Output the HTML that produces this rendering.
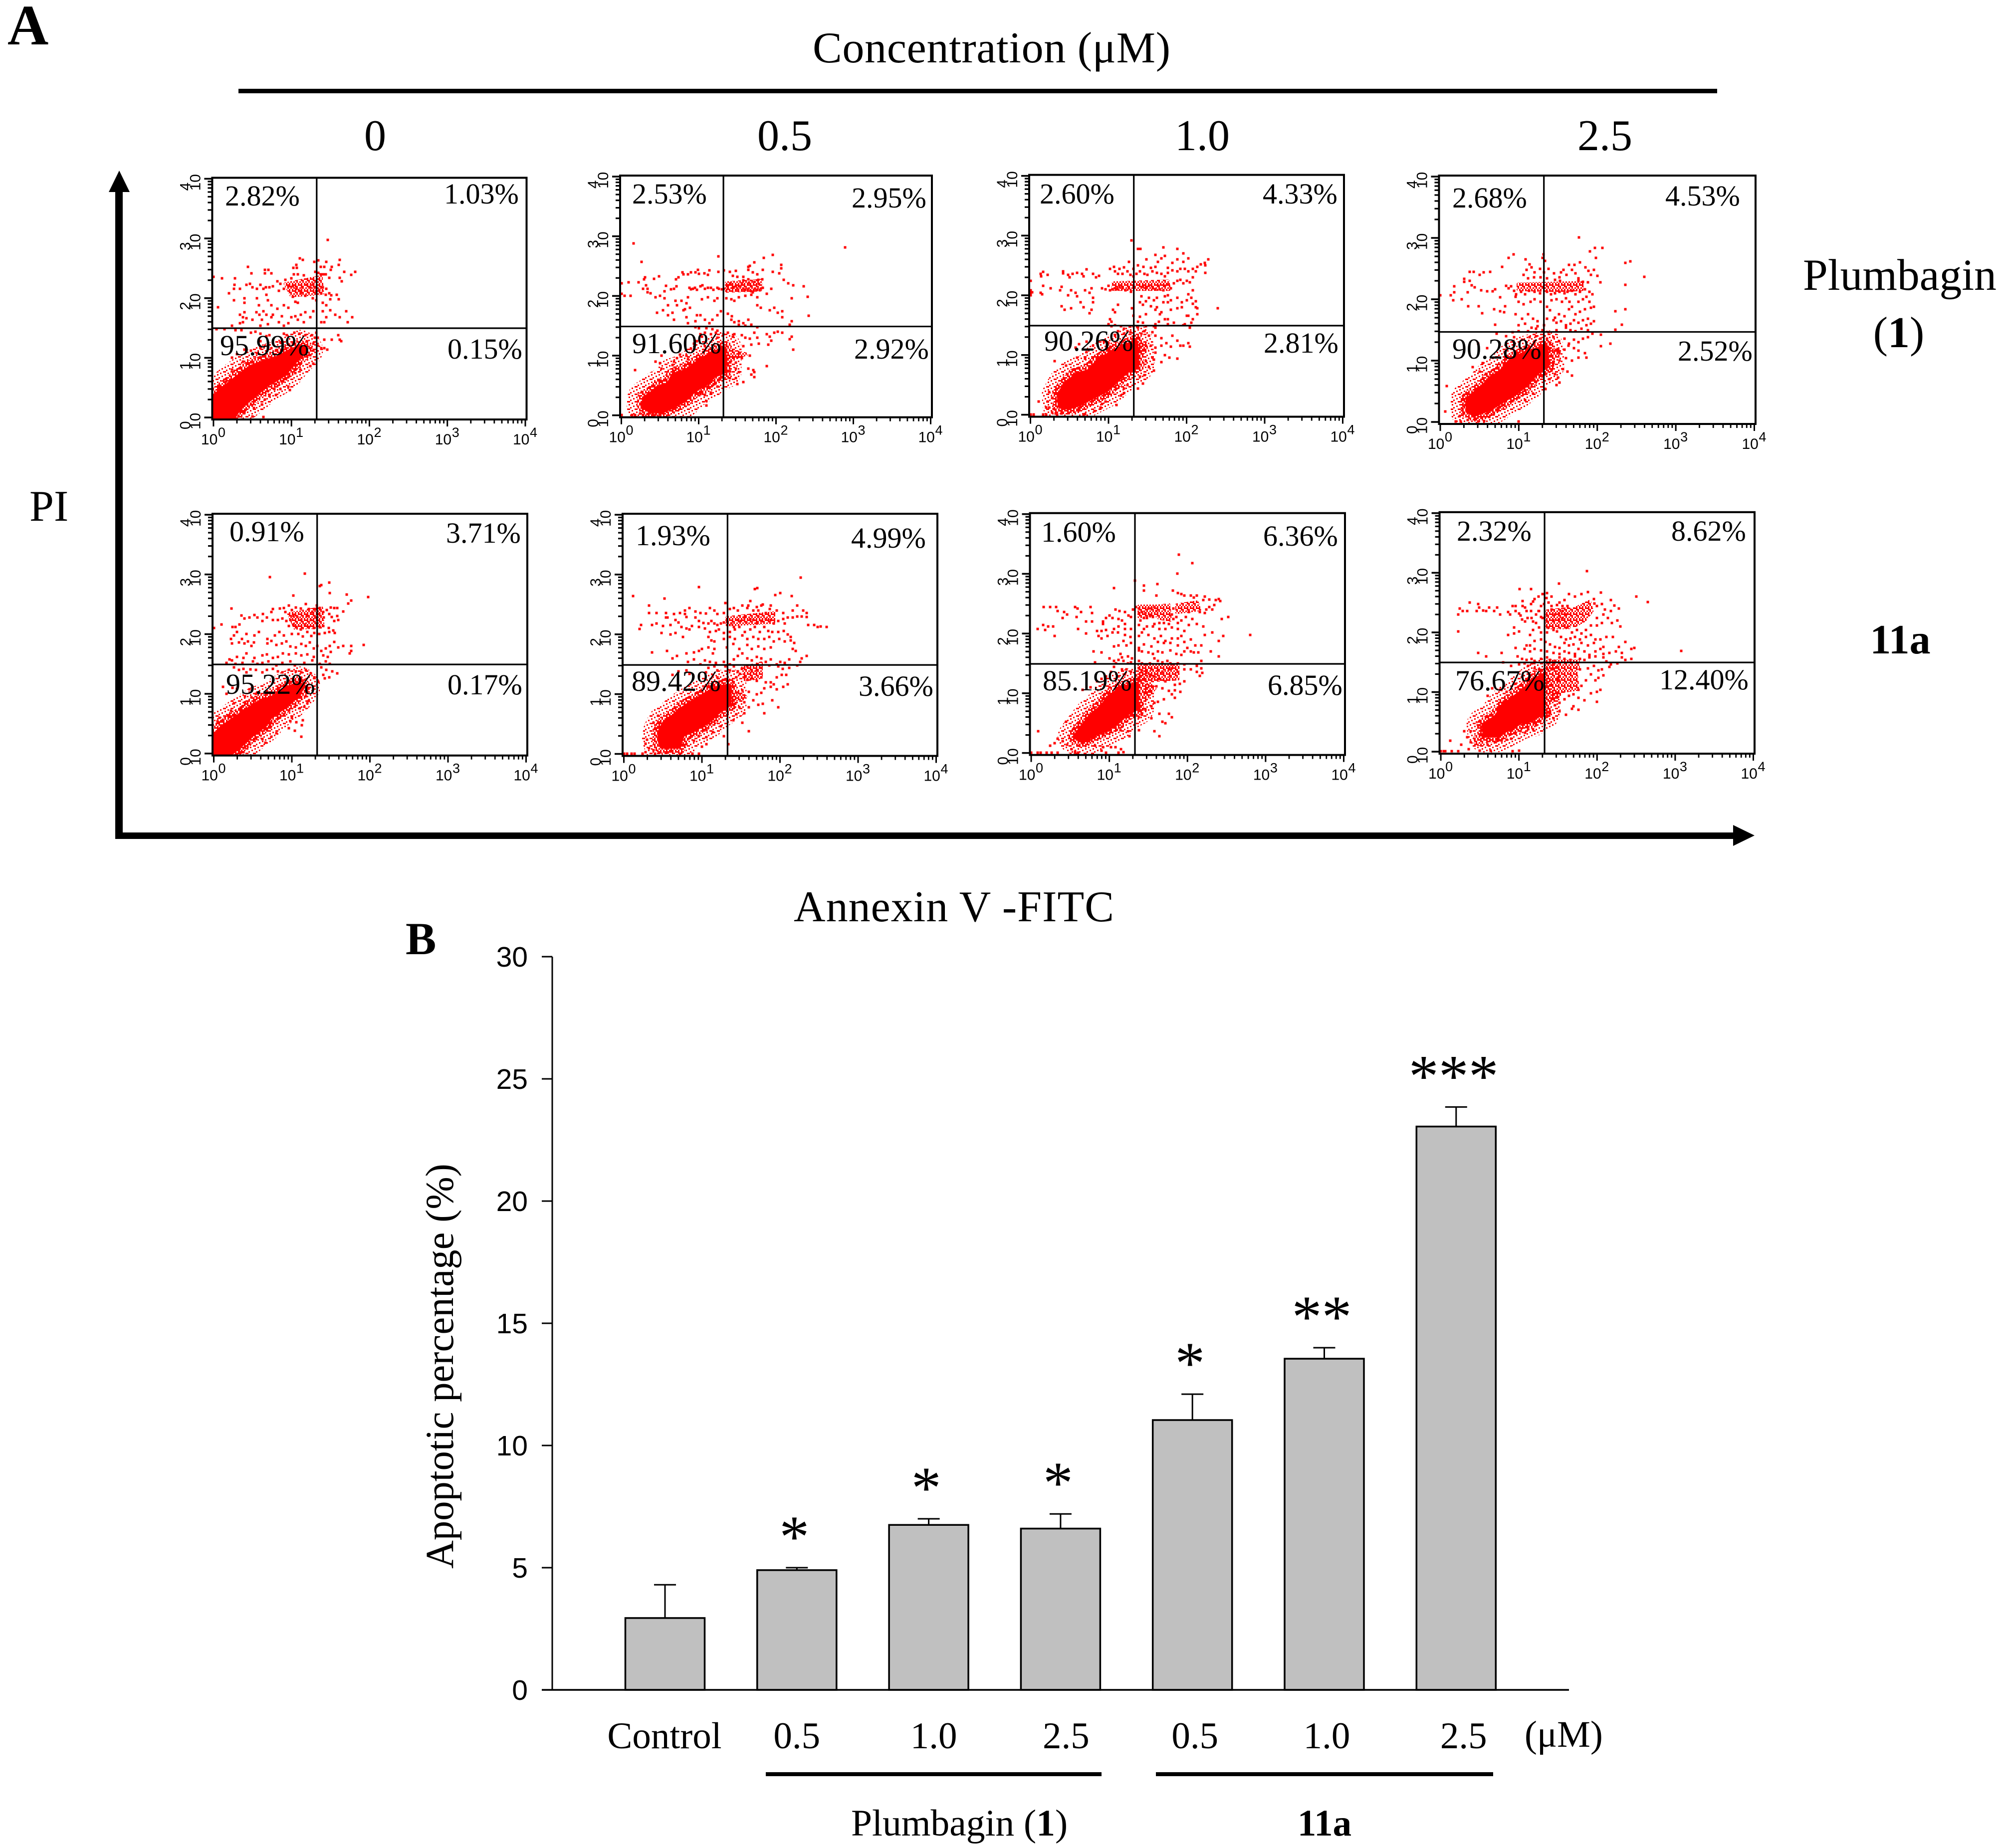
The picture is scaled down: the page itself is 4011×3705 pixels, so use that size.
<!DOCTYPE html>
<html lang="en">
<head>
<meta charset="utf-8">
<title>Apoptosis flow cytometry and bar chart</title>
<style>
html,body{margin:0;padding:0;background:#fff;}
svg{display:block;}
.serif{font-family:"Liberation Serif",serif;fill:#000;}
.sans{font-family:"Liberation Sans",sans-serif;fill:#000;}
.pct{font-family:"Liberation Serif",serif;font-size:58px;fill:#000;}
.head{font-family:"Liberation Serif",serif;font-size:88px;fill:#000;}
.lab{font-family:"Liberation Serif",serif;font-size:75px;fill:#000;}
</style>
</head>
<body>
<svg id="figure" xmlns="http://www.w3.org/2000/svg" width="4011" height="3705" viewBox="0 0 4011 3705">
<defs>
<pattern id="speck-dense" width="12" height="12" patternUnits="userSpaceOnUse">
<path d="M0 0h3v3H0zM6 0h3v3H6zM3 3h3v3H3zM9 3h3v3H9zM0 6h6v3H0zM9 6h3v3H9zM3 9h3v3H3zM6 9h3v3H6z" fill="#f00"/>
</pattern>
<pattern id="speck-sparse" width="15" height="15" patternUnits="userSpaceOnUse">
<path d="M0 0h3v3H0zM9 3h3v3H9zM3 6h3v3H3zM12 9h3v3h-3zM6 12h3v3H6zM0 9h3v3H0z" fill="#f00"/>
</pattern>
</defs>
<rect width="4011" height="3705" fill="#fff"/>

<text class="serif" x="15" y="89" font-size="114" font-weight="bold">A</text>
<text class="head" x="1629" y="125" textLength="717">Concentration (μM)</text>
<rect x="478" y="178" width="2964" height="9" fill="#000"/>
<text class="head" x="752" y="301" text-anchor="middle">0</text>
<text class="head" x="1573" y="301" text-anchor="middle">0.5</text>
<text class="head" x="2410" y="301" text-anchor="middle">1.0</text>
<text class="head" x="3217" y="301" text-anchor="middle">2.5</text>
<text class="head" x="59" y="1044">PI</text>
<text class="head" x="3614" y="581" font-size="89.5" style="font-size:89.5px">Plumbagin</text>
<text class="head" x="3806" y="696" text-anchor="middle">(<tspan font-weight="bold">1</tspan>)</text>
<text class="head" x="3809" y="1310" text-anchor="middle" font-weight="bold" style="font-size:84px">11a</text>
<text class="head" x="1591" y="1847" textLength="642">Annexin V -FITC</text>

<path d="M231 1682V385H218L239 342L260 385H246V1669H3474V1654L3517 1675L3474 1696V1682Z" fill="#000"/>

<g id="flow-panels"></g>

<g>
<text class="pct" x="451" y="412">2.82%</text>
<text class="pct" x="890" y="408">1.03%</text>
<text class="pct" x="441" y="712">95.99%</text>
<text class="pct" x="897" y="719">0.15%</text>
<text class="pct" x="1267" y="408">2.53%</text>
<text class="pct" x="1707" y="416">2.95%</text>
<text class="pct" x="1267" y="708">91.60%</text>
<text class="pct" x="1712" y="719">2.92%</text>
<text class="pct" x="2084" y="408">2.60%</text>
<text class="pct" x="2531" y="408">4.33%</text>
<text class="pct" x="2093" y="703">90.26%</text>
<text class="pct" x="2533" y="707">2.81%</text>
<text class="pct" x="2911" y="416">2.68%</text>
<text class="pct" x="3338" y="412">4.53%</text>
<text class="pct" x="2911" y="719">90.28%</text>
<text class="pct" x="3363" y="723">2.52%</text>
<text class="pct" x="460" y="1085">0.91%</text>
<text class="pct" x="894" y="1088">3.71%</text>
<text class="pct" x="453" y="1391">95.22%</text>
<text class="pct" x="897" y="1392">0.17%</text>
<text class="pct" x="1274" y="1093">1.93%</text>
<text class="pct" x="1706" y="1098">4.99%</text>
<text class="pct" x="1266" y="1385">89.42%</text>
<text class="pct" x="1721" y="1395">3.66%</text>
<text class="pct" x="2087" y="1086">1.60%</text>
<text class="pct" x="2532" y="1094">6.36%</text>
<text class="pct" x="2090" y="1384">85.19%</text>
<text class="pct" x="2541" y="1393">6.85%</text>
<text class="pct" x="2920" y="1084">2.32%</text>
<text class="pct" x="3350" y="1084">8.62%</text>
<text class="pct" x="2917" y="1384">76.67%</text>
<text class="pct" x="3326" y="1382">12.40%</text>
</g>

<text class="serif" x="813" y="1913" font-size="92" font-weight="bold">B</text>
<text class="lab" transform="translate(908,3145) rotate(-90)" textLength="812" lengthAdjust="spacingAndGlyphs" style="font-size:79px">Apoptotic percentage (%)</text>
<g id="bar-chart"></g>
<text class="lab" x="3056" y="3502">(μM)</text>
<rect x="1535" y="3553" width="673" height="8" fill="#000"/>
<rect x="2317" y="3553" width="676" height="8" fill="#000"/>
<text class="lab" x="1706" y="3680" style="font-size:75.5px">Plumbagin (<tspan font-weight="bold">1</tspan>)</text>
<text class="lab" x="2655" y="3680" text-anchor="middle" font-weight="bold">11a</text>
</svg>

<script>
/* ---------- flow cytometry data: channels 0-1000 span 10^0 - 10^4 on each axis ---------- */
const tickExponents = ['0','1','2','3','4'];
const gateX = [331,330,331,330,331,332,332,332];
const gateY = [374,372,373,367,373,372,373,374];

const panel1Core = [[0,82],[19,106],[72,162],[120,210],[169,234],[210,250],[242,274],[275,294],[295,282],[283,266],[259,234],[234,194],[202,162],[169,138],[128,90],[88,50],[63,2],[0,0]];
const panel2Core = [[76,72],[96,88],[120,116],[153,128],[169,168],[210,184],[259,232],[308,264],[332,280],[332,184],[300,168],[275,136],[234,104],[202,64],[169,40],[129,16],[88,24],[74,40]];
const panel3Core = [[92,80],[112,128],[137,152],[141,164],[186,180],[218,224],[267,264],[300,284],[337,304],[341,208],[308,184],[275,144],[243,104],[194,72],[153,44],[120,32],[96,36]];
const panel4Core = [[89,92],[110,116],[138,144],[159,176],[191,200],[224,248],[272,280],[337,304],[339,228],[305,200],[272,152],[240,120],[199,88],[159,56],[110,32],[89,44]];
const panel5Core = [[0,72],[24,104],[53,132],[98,172],[138,208],[187,232],[236,272],[272,292],[285,280],[268,248],[244,216],[220,192],[179,152],[163,120],[122,80],[89,40],[53,0],[0,0]];
const panel6Core = [[118,96],[130,128],[163,160],[179,180],[211,208],[252,240],[293,272],[337,284],[337,208],[301,176],[268,136],[236,112],[187,80],[175,32],[122,32],[114,64]];
const panel7Core = [[157,96],[190,152],[222,188],[254,236],[287,268],[337,288],[337,188],[303,164],[271,124],[238,100],[198,76],[165,52],[141,68]];
const panel8Core = [[138,110],[175,142],[207,198],[256,246],[305,302],[327,318],[327,166],[289,134],[256,126],[224,102],[175,70],[142,70]];

const panel1Lobes = [[[230,560],[345,590],[350,520],[250,510]]];
const panel2Lobes = [[[332,272],[381,264],[405,256],[365,240],[340,216]],[[340,555],[450,565],[450,525],[340,520]]];
const panel3Lobes = [[[341,300],[369,300],[373,272],[352,248],[341,232]],[[265,552],[440,560],[445,525],[265,525]]];
const panel4Lobes = [[[339,296],[375,296],[378,270],[345,245]],[[248,562],[451,568],[452,540],[377,535],[248,540]]];
const panel5Lobes = [[[240,585],[345,610],[350,530],[260,525]]];
const panel6Lobes = [[[337,280],[360,262],[390,240],[362,226],[337,216]],[[330,570],[480,590],[480,550],[330,540]],[[380,360],[440,380],[440,320],[390,310]]];
const panel7Lobes = [[[337,280],[376,288],[397,272],[368,228],[344,188],[337,180]],[[466,620],[531,632],[539,600],[466,588]],[[409,616],[441,620],[445,556],[409,564]],[[345,615],[405,615],[405,575],[345,570]],[[345,370],[470,370],[470,310],[345,300]]];
const panel8Lobes = [[[329,310],[378,342],[431,358],[439,262],[394,254],[362,214],[337,198],[329,198]],[[411,590],[444,610],[476,630],[484,590],[460,550],[427,526],[411,542]],[[110,62],[138,70],[134,30],[110,30]],[[340,590],[410,600],[410,520],[340,520]],[[340,380],[440,380],[440,350],[340,345]]];

const panel1Events = [[367,743],[277,666],[287,660],[110,632],[122,604],[165,619],[176,619],[165,603],[185,604],[266,639],[256,626],[267,626],[324,652],[336,658],[362,652],[344,632],[356,630],[380,632],[376,619],[401,639],[405,660],[420,610],[454,610],[441,598],[0,590],[27,583],[69,583],[405,585],[412,570],[344,600],[352,600],[360,600],[372,586],[326,610],[336,605],[290,595],[270,600],[258,600],[250,582],[230,577],[215,560],[205,570],[190,550],[180,545],[168,545],[160,540],[150,555],[140,540],[125,545],[117,560],[105,555],[68,555],[66,540],[85,540],[50,520],[65,490],[15,462],[100,500],[100,480],[140,500],[145,470],[170,515],[175,490],[210,530],[225,540],[240,550],[255,550],[265,540],[275,530],[285,545],[300,555],[310,545],[320,560],[325,545],[330,530],[340,535],[350,545],[362,540],[345,520],[360,515],[372,520],[378,512],[395,515],[402,495],[375,495],[350,480],[362,470],[330,490],[318,500],[295,510],[280,520],[255,505],[262,485],[270,480],[240,460],[225,470],[205,455],[185,470],[138,440],[148,430],[160,445],[170,430],[190,430],[100,440],[85,430],[95,420],[105,415],[125,410],[155,410],[185,420],[210,400],[220,425],[250,420],[262,425],[280,430],[295,440],[310,420],[320,445],[350,445],[362,420],[375,450],[390,430],[405,420],[425,445],[445,420],[430,400],[355,400],[345,400],[290,400],[270,410],[240,395],[225,385],[175,390],[150,385],[85,395],[95,400],[60,385],[10,370],[35,370],[70,365],[90,365],[120,355],[135,360],[150,350],[180,345],[225,350],[235,345],[260,355],[275,350],[295,345],[315,345],[330,355],[325,335],[335,335],[355,325],[380,325],[400,345],[405,325],[410,320],[280,300],[300,320],[320,310],[335,300],[310,290],[320,280],[345,290],[355,290],[365,285],[300,260],[310,262],[285,250],[270,250],[265,240],[320,225],[310,215],[278,200],[262,185],[240,170],[225,160],[200,140],[220,150],[195,120],[215,120],[240,130],[245,115],[170,130],[175,110],[180,90],[200,95],[165,75],[155,55],[130,40],[120,55],[100,20],[125,5],[160,2],[80,5],[60,250],[75,265],[95,235],[100,285],[120,280],[140,270],[150,290],[165,300],[185,290],[200,280],[150,320],[170,340],[190,320],[215,315],[240,305],[255,310],[250,290],[60,200],[70,160],[40,150],[20,130]];

const panel2Events = [[39,720],[66,642],[313,666],[723,704],[0,552],[24,558],[55,558],[74,570],[77,578],[105,572],[121,582],[80,545],[85,530],[70,530],[0,510],[10,500],[30,500],[85,515],[95,512],[110,495],[125,500],[140,490],[140,520],[145,542],[160,528],[170,530],[178,540],[176,570],[185,578],[200,590],[198,598],[215,590],[225,598],[240,598],[247,610],[250,592],[268,595],[280,588],[285,608],[313,600],[332,608],[350,600],[370,605],[360,585],[375,580],[395,580],[410,610],[415,625],[425,598],[440,590],[442,568],[455,570],[410,622],[430,640],[460,660],[490,672],[458,610],[490,600],[510,595],[517,615],[517,630],[525,568],[540,553],[555,545],[220,535],[225,528],[232,530],[238,535],[245,525],[255,540],[262,545],[270,530],[280,535],[290,535],[298,525],[310,535],[315,530],[325,528],[332,530],[345,530],[345,545],[352,552],[360,535],[370,540],[375,530],[385,540],[390,552],[395,530],[400,525],[410,530],[412,555],[420,540],[420,520],[425,515],[432,530],[440,525],[450,530],[458,535],[445,550],[430,560],[410,570],[395,565],[550,490],[603,496],[590,540],[485,530],[470,510],[440,495],[420,505],[400,500],[380,495],[365,480],[355,485],[340,490],[310,490],[300,480],[280,495],[260,485],[215,495],[195,480],[175,480],[180,460],[210,470],[205,445],[222,450],[200,440],[150,460],[135,440],[115,430],[150,420],[165,430],[170,400],[210,410],[215,385],[240,395],[245,420],[255,420],[270,400],[285,385],[295,400],[310,420],[322,435],[345,425],[358,415],[380,395],[395,385],[410,400],[440,460],[450,450],[480,440],[495,450],[505,430],[520,435],[520,410],[550,395],[545,380],[605,418],[355,400],[365,390],[380,380],[400,375],[420,380],[440,370],[240,370],[250,365],[275,365],[295,360],[310,355],[255,340],[260,330],[270,345],[290,340],[310,325],[305,345],[330,340],[345,345],[360,330],[365,340],[390,335],[400,325],[415,320],[430,345],[440,325],[470,340],[480,330],[495,345],[505,350],[520,345],[550,330],[545,318],[475,295],[485,312],[445,300],[420,295],[395,290],[555,275],[270,290],[245,310],[235,300],[225,280],[210,250],[180,240],[170,225],[175,200],[165,210],[190,255],[215,235],[415,250],[390,240],[370,220],[345,210],[350,185],[370,195],[380,180],[350,155],[370,155],[375,130],[410,195],[420,170],[395,140],[430,180],[470,205],[427,190],[430,160],[300,130],[310,120],[290,95],[280,120],[260,120],[255,90],[240,100],[275,60],[270,85],[275,40],[0,2],[35,2],[45,2],[70,2],[85,5],[100,8],[110,3],[125,2],[60,8],[68,30],[65,50],[70,65],[45,0],[110,225],[130,195],[125,218],[45,190],[130,250]];

const panel3Events = [[0,560],[0,520],[0,510],[5,512],[0,500],[33,510],[38,505],[40,540],[35,580],[33,590],[40,598],[55,585],[105,600],[105,592],[120,585],[125,575],[135,590],[150,595],[165,590],[180,608],[170,580],[200,590],[210,575],[220,582],[65,530],[100,535],[95,520],[120,500],[130,520],[145,510],[150,495],[175,520],[195,530],[190,510],[200,490],[230,530],[240,525],[250,540],[255,520],[262,525],[270,530],[278,525],[285,535],[295,530],[305,520],[315,530],[322,515],[330,540],[360,535],[370,530],[380,540],[392,530],[400,525],[410,540],[415,525],[425,520],[430,540],[440,545],[450,530],[460,550],[470,560],[480,565],[490,550],[500,560],[510,555],[520,575],[505,600],[495,610],[480,610],[470,600],[455,605],[440,595],[430,580],[420,590],[405,595],[390,600],[375,585],[365,590],[350,600],[345,625],[340,590],[330,580],[320,585],[310,600],[295,590],[280,590],[270,600],[255,610],[268,620],[285,610],[300,618],[315,640],[330,610],[362,620],[372,650],[385,615],[400,620],[408,640],[420,655],[440,615],[455,635],[470,650],[490,640],[505,655],[520,610],[530,600],[535,620],[545,630],[558,635],[570,650],[560,625],[425,700],[470,695],[324,730],[345,695],[352,695],[400,670],[430,665],[490,675],[560,595],[440,500],[430,495],[405,490],[395,480],[380,490],[370,475],[355,495],[350,470],[360,460],[385,455],[405,450],[425,470],[440,470],[450,480],[470,490],[485,470],[500,480],[505,505],[515,490],[520,465],[530,450],[530,475],[520,520],[535,445],[600,445],[400,440],[415,420],[420,430],[450,440],[470,445],[485,450],[535,420],[500,415],[520,400],[505,415],[430,400],[440,380],[412,390],[370,420],[350,410],[345,390],[360,385],[330,415],[325,445],[280,460],[265,440],[270,430],[255,400],[260,390],[250,380],[195,440],[190,425],[200,470],[170,450],[160,470],[110,440],[130,445],[100,455],[260,370],[270,375],[290,370],[300,360],[310,350],[330,370],[345,365],[370,370],[395,370],[400,380],[400,365],[440,400],[460,385],[490,375],[510,370],[515,385],[510,365],[495,380],[270,330],[280,350],[300,340],[320,345],[330,325],[355,340],[365,350],[380,330],[390,345],[400,330],[420,320],[435,300],[455,330],[470,310],[480,290],[490,290],[510,285],[505,300],[450,285],[420,290],[400,280],[385,290],[370,290],[250,300],[235,305],[200,290],[180,305],[155,295],[145,280],[180,262],[265,270],[330,280],[390,240],[400,260],[430,250],[420,220],[395,230],[380,200],[395,185],[445,240],[470,235],[370,225],[350,160],[365,165],[360,130],[345,110],[300,110],[310,125],[270,115],[250,135],[240,150],[250,190],[285,175],[240,55],[230,45],[225,30],[290,80],[275,40],[300,90],[205,15],[175,3],[170,2],[140,30],[70,70],[60,95],[55,55],[50,30],[60,30],[70,10],[75,25],[100,5],[85,2],[0,2],[10,2],[40,2],[50,2],[80,5],[100,15],[120,25],[27,55],[77,225],[115,205],[175,235],[150,240]];

const panel4Events = [[441,752],[492,710],[516,710],[476,696],[496,668],[606,654],[589,648],[649,592],[589,558],[589,460],[557,452],[579,396],[557,376],[541,320],[512,308],[512,356],[233,682],[218,668],[197,632],[272,662],[284,642],[325,668],[329,682],[333,656],[20,146],[16,42],[103,224],[93,612],[106,612],[138,610],[159,612],[126,600],[76,584],[76,572],[93,576],[100,556],[110,548],[45,552],[45,528],[33,516],[41,496],[0,516],[69,500],[88,528],[89,472],[122,472],[133,444],[130,536],[150,532],[167,532],[175,540],[171,460],[191,508],[207,472],[191,452],[203,448],[175,396],[210,555],[218,545],[225,552],[235,535],[242,520],[258,530],[270,520],[282,535],[300,530],[318,525],[340,530],[352,520],[365,525],[380,530],[395,525],[405,530],[420,535],[430,520],[445,530],[460,540],[475,530],[485,520],[265,600],[275,620],[290,630],[300,610],[318,625],[330,610],[345,625],[362,605],[380,590],[392,620],[402,600],[410,640],[385,610],[420,620],[430,605],[440,585],[428,640],[445,650],[462,630],[472,615],[480,600],[490,620],[500,595],[470,570],[455,572],[440,575],[510,570],[382,575],[365,580],[340,585],[320,590],[298,590],[280,585],[240,510],[250,490],[265,480],[288,490],[300,500],[320,490],[340,470],[355,495],[370,500],[388,490],[400,505],[412,490],[420,470],[440,490],[455,500],[465,510],[475,490],[480,465],[490,470],[460,460],[445,450],[430,440],[410,460],[395,430],[378,440],[365,425],[350,455],[340,420],[310,410],[295,420],[280,440],[260,420],[240,440],[250,395],[270,400],[290,385],[310,390],[330,395],[360,415],[370,405],[385,410],[400,395],[415,400],[425,415],[440,405],[455,415],[470,420],[465,395],[480,400],[490,410],[450,380],[470,375],[430,370],[415,375],[400,385],[370,375],[345,365],[325,375],[305,380],[280,370],[250,370],[230,365],[340,340],[350,320],[360,345],[378,330],[395,340],[410,320],[425,335],[440,325],[455,340],[470,345],[485,360],[320,340],[305,350],[300,330],[285,345],[260,335],[235,345],[210,350],[180,360],[440,290],[425,300],[408,310],[395,295],[380,280],[365,290],[350,300],[460,280],[465,262],[440,262],[420,250],[400,260],[380,250],[360,240],[345,225],[355,210],[365,195],[375,180],[390,215],[405,205],[420,190],[380,160],[370,150],[348,175],[275,195],[260,185],[250,170],[235,155],[225,140],[320,190],[305,165],[290,145],[270,130],[335,135],[295,115],[270,90],[250,100],[230,85],[200,70],[170,30],[155,20],[140,5],[110,15],[88,8],[75,35],[70,55],[62,25],[80,70],[65,2],[50,2],[120,2],[250,2],[300,235],[310,255],[285,260],[265,265],[250,250],[230,260],[205,285],[150,300],[120,320],[135,240],[125,205]];

const panel5Events = [[0,525],[180,738],[292,754],[340,702],[345,705],[370,715],[425,666],[372,672],[255,662],[440,640],[430,628],[495,656],[415,595],[57,608],[190,605],[158,585],[185,592],[240,620],[225,610],[212,608],[230,592],[250,600],[262,612],[278,608],[295,626],[305,606],[315,592],[325,605],[330,620],[340,610],[350,592],[362,600],[375,612],[385,610],[395,610],[370,585],[378,572],[395,575],[385,555],[398,560],[352,570],[338,585],[325,570],[310,560],[298,575],[280,560],[268,572],[255,575],[245,560],[232,555],[220,565],[205,560],[190,560],[170,570],[155,555],[140,570],[130,580],[115,570],[98,565],[88,578],[82,540],[70,530],[60,530],[25,540],[278,520],[265,530],[255,540],[240,535],[292,540],[305,530],[320,525],[330,545],[340,530],[350,535],[368,525],[382,515],[388,505],[370,510],[355,505],[338,500],[322,505],[312,492],[300,510],[285,490],[270,500],[250,500],[225,495],[210,510],[195,495],[172,480],[145,510],[130,495],[110,470],[120,450],[105,500],[90,480],[75,510],[65,495],[55,480],[58,460],[80,465],[98,460],[128,465],[172,460],[184,472],[200,455],[218,460],[232,470],[245,448],[262,445],[280,458],[295,450],[308,465],[320,440],[332,450],[345,430],[358,440],[372,450],[385,468],[398,445],[415,450],[440,450],[435,420],[480,455],[440,430],[350,410],[365,405],[375,425],[320,405],[300,415],[280,410],[262,420],[240,415],[222,420],[205,405],[190,400],[170,415],[155,410],[130,400],[105,420],[95,400],[75,405],[58,390],[50,395],[40,380],[70,375],[92,380],[125,385],[140,375],[155,380],[175,385],[200,370],[220,380],[245,385],[260,370],[290,380],[315,390],[340,375],[358,385],[372,375],[345,360],[360,350],[380,345],[395,335],[370,320],[355,315],[350,330],[335,300],[322,320],[310,335],[295,350],[280,340],[262,345],[240,350],[220,340],[205,345],[190,355],[170,350],[155,340],[135,350],[118,352],[105,340],[95,355],[80,350],[65,360],[30,280],[40,250],[60,275],[75,270],[100,240],[100,215],[115,268],[120,235],[135,250],[170,260],[155,225],[210,265],[225,285],[250,270],[275,250],[295,240],[305,220],[300,210],[290,195],[275,190],[260,195],[240,180],[225,165],[212,150],[195,135],[180,120],[170,100],[250,150],[245,135],[265,130],[285,140],[282,118],[240,105],[200,85],[185,70],[165,45],[155,60],[130,60],[115,45],[100,25],[95,5],[80,15],[65,20],[260,95],[280,70],[18,150],[12,135],[30,140],[45,160],[55,180],[65,210]];

const panel6Events = [[566,738],[240,698],[420,690],[428,694],[325,630],[30,660],[130,650],[398,620],[485,664],[500,672],[538,660],[470,620],[445,625],[405,640],[425,615],[440,620],[430,600],[415,600],[395,610],[380,620],[365,600],[352,610],[340,605],[320,590],[300,585],[290,600],[275,610],[262,588],[245,590],[230,595],[210,610],[195,600],[195,585],[180,590],[160,585],[135,590],[135,570],[80,620],[80,590],[105,590],[140,570],[165,560],[200,572],[230,570],[240,555],[255,548],[270,545],[280,555],[290,545],[300,540],[310,545],[320,550],[332,552],[345,545],[352,530],[365,560],[375,555],[385,570],[392,550],[405,565],[415,560],[425,545],[430,575],[440,555],[455,565],[470,560],[480,545],[495,555],[510,565],[515,545],[525,570],[540,570],[555,575],[570,575],[585,590],[585,572],[455,590],[468,605],[490,600],[510,590],[540,600],[555,620],[575,600],[590,540],[620,530],[630,532],[650,530],[610,540],[55,540],[50,522],[90,540],[105,545],[125,535],[150,540],[175,550],[185,530],[200,525],[218,535],[240,530],[260,525],[275,510],[295,515],[305,520],[320,505],[340,510],[355,520],[370,530],[388,510],[405,520],[420,530],[435,510],[450,530],[462,515],[475,510],[495,510],[512,515],[525,500],[535,490],[120,505],[150,500],[165,505],[190,490],[210,520],[270,490],[280,475],[290,470],[320,480],[340,490],[355,480],[380,495],[395,480],[415,490],[430,480],[450,480],[465,490],[480,470],[497,480],[515,470],[535,475],[545,465],[540,440],[550,430],[470,445],[450,440],[430,450],[410,440],[395,455],[370,440],[350,460],[330,445],[290,440],[270,445],[285,420],[250,440],[240,430],[225,425],[200,420],[170,410],[138,430],[90,425],[155,400],[205,385],[225,395],[260,390],[275,385],[295,380],[320,385],[340,375],[352,395],[365,410],[380,420],[395,400],[410,390],[425,405],[440,400],[455,385],[470,395],[490,375],[500,385],[530,395],[515,380],[570,400],[585,410],[565,385],[555,370],[530,360],[508,355],[495,365],[465,370],[440,360],[425,350],[410,345],[395,365],[378,355],[365,345],[352,365],[340,350],[325,365],[300,350],[290,365],[270,360],[245,375],[200,350],[175,345],[155,330],[210,335],[240,325],[262,340],[285,330],[300,320],[318,310],[335,305],[350,300],[360,320],[372,335],[385,320],[395,310],[410,315],[425,305],[440,320],[455,300],[470,300],[480,290],[490,320],[505,330],[520,330],[525,290],[510,280],[490,270],[470,280],[450,275],[440,255],[425,250],[400,260],[380,265],[360,255],[345,235],[355,210],[370,195],[385,215],[400,195],[415,225],[430,205],[445,210],[475,225],[495,195],[450,170],[385,170],[360,165],[350,140],[380,130],[400,95],[300,155],[285,145],[275,125],[255,130],[240,145],[265,100],[285,90],[310,115],[320,75],[335,40],[265,70],[265,40],[250,30],[240,75],[225,55],[200,40],[175,70],[165,80],[150,65],[95,130],[110,110],[110,160],[75,60],[70,42],[80,25],[70,8],[95,15],[60,2],[35,2],[25,2],[10,2],[0,2],[100,2],[180,2],[220,2],[240,2]];

const panel7Events = [[472,830],[516,795],[468,750],[332,722],[265,690],[360,700],[361,680],[404,706],[454,680],[400,660],[470,670],[480,665],[490,660],[555,655],[530,658],[520,650],[510,658],[570,642],[550,640],[590,640],[600,645],[605,635],[580,600],[585,620],[630,570],[610,560],[700,495],[615,490],[40,610],[60,610],[80,610],[85,595],[105,590],[115,580],[140,610],[148,605],[190,610],[160,590],[195,585],[100,565],[145,570],[175,550],[195,550],[230,550],[240,565],[230,540],[250,575],[260,565],[270,600],[282,595],[280,560],[290,555],[300,540],[300,590],[312,575],[320,570],[325,600],[335,610],[345,605],[355,590],[365,585],[375,605],[385,605],[395,610],[400,595],[390,570],[380,575],[370,565],[360,565],[350,555],[345,585],[455,605],[450,580],[465,570],[480,555],[495,570],[505,590],[515,560],[540,590],[555,585],[560,600],[570,610],[470,545],[455,560],[440,540],[425,545],[410,545],[395,540],[38,535],[55,530],[70,530],[20,520],[45,515],[75,490],[210,510],[225,510],[240,515],[265,520],[280,530],[300,520],[320,520],[345,535],[360,520],[370,530],[390,530],[410,520],[430,520],[450,525],[470,520],[490,510],[505,535],[530,540],[550,530],[580,505],[150,520],[175,500],[215,490],[225,480],[245,490],[260,505],[278,505],[300,495],[318,485],[345,490],[355,505],[375,495],[395,480],[415,490],[430,470],[450,480],[470,480],[480,490],[490,465],[510,475],[525,450],[555,495],[600,470],[545,450],[500,440],[470,450],[445,460],[425,460],[405,465],[385,445],[360,455],[345,440],[320,460],[305,450],[295,470],[280,450],[265,445],[200,425],[225,420],[285,415],[290,400],[310,405],[322,395],[345,430],[355,425],[375,420],[390,415],[405,425],[420,420],[445,430],[465,415],[480,410],[490,425],[510,425],[520,420],[535,420],[545,385],[575,425],[600,405],[205,380],[250,395],[265,385],[272,375],[280,390],[295,385],[310,375],[320,380],[345,385],[355,375],[365,370],[380,375],[395,395],[405,385],[420,380],[435,385],[445,375],[455,370],[470,375],[490,370],[530,365],[545,355],[265,360],[290,350],[305,350],[320,340],[345,355],[355,345],[368,335],[385,350],[405,345],[420,340],[440,350],[450,355],[470,340],[490,350],[510,350],[530,340],[548,335],[540,322],[490,300],[475,290],[460,285],[445,320],[430,300],[410,310],[395,320],[380,320],[365,305],[350,320],[335,325],[300,330],[280,320],[255,340],[240,320],[225,310],[210,300],[190,275],[165,265],[235,285],[250,275],[400,280],[420,270],[440,260],[450,245],[460,262],[478,255],[460,230],[425,225],[405,215],[395,210],[385,195],[365,180],[345,150],[355,160],[385,145],[410,165],[420,130],[440,165],[450,150],[300,150],[305,130],[290,110],[270,105],[250,95],[240,85],[230,75],[345,95],[310,90],[315,70],[285,95],[430,125],[395,90],[410,70],[255,25],[288,15],[295,3],[270,25],[230,25],[225,10],[205,30],[185,50],[165,40],[150,30],[140,5],[130,15],[115,35],[100,50],[85,60],[75,40],[60,30],[50,2],[65,2],[85,2],[140,2],[150,2],[240,2],[280,2],[20,2],[0,2],[30,2],[112,130],[22,90]];

const panel8Events = [[468,758],[378,705],[252,682],[288,682],[625,650],[662,628],[512,668],[470,670],[450,660],[430,650],[410,660],[395,635],[355,650],[340,665],[338,645],[325,660],[300,640],[312,650],[288,620],[295,630],[270,605],[262,610],[262,632],[240,610],[230,610],[180,605],[155,605],[120,620],[122,605],[92,625],[70,590],[85,590],[60,600],[115,590],[135,592],[145,590],[170,590],[190,575],[215,585],[222,575],[240,590],[250,580],[275,590],[288,590],[290,560],[305,575],[315,590],[320,565],[340,570],[355,595],[365,575],[378,580],[390,590],[400,575],[355,610],[372,615],[390,610],[405,610],[500,610],[515,620],[525,595],[545,590],[555,612],[545,635],[570,600],[490,640],[492,622],[380,625],[345,625],[330,620],[320,610],[312,590],[255,570],[260,555],[270,545],[278,560],[295,545],[305,540],[315,520],[325,560],[340,545],[345,520],[360,550],[378,555],[390,560],[395,530],[405,520],[420,500],[435,510],[450,495],[465,510],[480,530],[500,560],[520,575],[535,560],[548,540],[500,530],[515,540],[565,550],[575,525],[56,575],[56,505],[235,520],[215,490],[235,495],[250,505],[285,490],[295,510],[320,500],[340,500],[360,510],[372,505],[385,480],[400,470],[415,475],[430,480],[445,470],[465,480],[480,490],[495,470],[510,470],[530,480],[550,480],[590,460],[570,440],[520,440],[490,455],[470,445],[450,455],[425,450],[410,445],[395,455],[380,435],[365,440],[350,450],[335,460],[320,470],[300,465],[285,445],[275,445],[268,430],[285,420],[300,430],[320,425],[340,420],[360,415],[380,410],[395,420],[410,415],[430,410],[440,430],[460,420],[475,405],[495,420],[510,430],[520,410],[540,415],[560,420],[580,415],[610,430],[620,435],[770,422],[240,435],[195,415],[120,415],[145,400],[245,400],[260,390],[275,385],[290,390],[300,380],[320,390],[340,395],[350,385],[365,380],[380,395],[395,390],[415,385],[430,400],[445,390],[460,385],[475,395],[495,400],[520,395],[530,378],[545,365],[565,370],[580,395],[590,385],[610,390],[200,375],[225,360],[250,365],[268,370],[280,360],[290,370],[300,350],[315,345],[340,350],[355,345],[445,345],[470,350],[490,360],[505,340],[515,345],[540,355],[520,320],[505,310],[495,300],[480,325],[465,300],[450,275],[440,260],[510,260],[500,250],[480,245],[460,215],[440,225],[425,240],[410,235],[395,220],[380,205],[365,195],[350,170],[345,150],[360,140],[380,170],[400,155],[425,190],[440,175],[420,180],[500,210],[320,300],[285,320],[270,265],[240,285],[210,250],[190,260],[165,265],[150,235],[200,205],[185,180],[240,155],[305,110],[295,95],[280,95],[270,80],[255,85],[240,75],[225,55],[210,50],[195,45],[175,40],[150,30],[130,70],[125,110],[95,40],[85,60],[95,85],[75,85],[65,30],[30,45],[10,2],[0,2],[15,2],[35,2],[55,2],[90,10],[125,5],[160,5],[230,2],[250,5],[350,160]];

const panelEvents = [panel1Events,panel2Events,panel3Events,panel4Events,panel5Events,panel6Events,panel7Events,panel8Events];
const panelCores = [panel1Core,panel2Core,panel3Core,panel4Core,panel5Core,panel6Core,panel7Core,panel8Core];
const panelLobes = [panel1Lobes,panel2Lobes,panel3Lobes,panel4Lobes,panel5Lobes,panel6Lobes,panel7Lobes,panel8Lobes];

/* ---------- bar chart data ---------- */
const barCategories = ['Control','0.5','1.0','2.5','0.5','1.0','2.5'];
const barValues = [2.94,4.9,6.75,6.6,11.04,13.55,23.05];
const barErrorTops = [4.3,5.0,7.0,7.2,12.1,14.0,23.85];
const barStars = ['','*','*','*','*','**','***'];
const barTickLabels = [0,5,10,15,20,25,30];

/* ---------- layout ---------- */
const panelLayout = [
  {l:425.4,r:1055.5,t:356.4,b:841},{l:1243,r:1868,t:352,b:836.6},{l:2063,r:2694,t:350.6,b:835.5},{l:2884.5,r:3519,t:352,b:850},
  {l:426,r:1057,t:1030,b:1514.7},{l:1248,r:1879,t:1030,b:1515.5},{l:2064.5,r:2696,t:1028.7,b:1513.6},{l:2885.6,r:3517,t:1026.8,b:1511}
];
const NS = 'http://www.w3.org/2000/svg';
function make(tag, parent, props){
  const node = document.createElementNS(NS, tag);
  for (const k in props) node.setAttribute(k, props[k]);
  parent.appendChild(node);
  return node;
}
const flowRoot = document.getElementById('flow-panels');

function drawPanel(i){
  const box = panelLayout[i];
  const sx = c => box.l + 2.5 + c / 1000 * (box.r - box.l - 5);
  const sy = c => box.b - 4 - c / 1000 * (box.b - box.t - 6);
  const g = make('g', flowRoot, {});
  
  

  const clip = make('clipPath', g, {id: 'panel-clip-' + i});
  
  

  const clipBox = make('rect', clip, {x: box.l, y: box.t, width: box.r - box.l, height: box.b - box.t});
  
  

  const marks = make('g', g, {'clip-path': 'url(#panel-clip-' + i + ')'});
  
  

  const corePoints = panelCores[i].map(p => sx(p[0]) + ',' + sy(p[1])).join(' ');
  const halo = make('polygon', marks, {points: corePoints, fill: 'url(#speck-sparse)', stroke: 'url(#speck-sparse)', 'stroke-width': 70, 'stroke-linejoin': 'round'});
  
  

  const fringe = make('polygon', marks, {points: corePoints, fill: 'url(#speck-dense)', stroke: 'url(#speck-dense)', 'stroke-width': 30, 'stroke-linejoin': 'round'});
  
  

  const core = make('polygon', marks, {points: corePoints, fill: '#f00', stroke: '#f00', 'stroke-width': 10, 'stroke-linejoin': 'round'});
  
  

  panelLobes[i].forEach(lobe => {
    const lb = make('polygon', marks, {points: lobe.map(p => sx(p[0]) + ',' + sy(p[1])).join(' '), fill: 'url(#speck-dense)', stroke: 'url(#speck-dense)', 'stroke-width': 6, 'stroke-linejoin': 'round'});
    
    
  });

  panelEvents[i].forEach(p => {
    const dot = make('rect', marks, {x: Math.round(sx(p[0])) - 2.5, y: Math.round(sy(p[1])) - 2.5, width: 5, height: 5, fill: '#f00'});
    
    
  });

  const frame = make('rect', g, {x: box.l, y: box.t, width: box.r - box.l, height: box.b - box.t, fill: 'none', stroke: '#000', 'stroke-width': 4});
  
  

  const vGate = make('line', g, {x1: sx(gateX[i]), x2: sx(gateX[i]), y1: box.t, y2: box.b, stroke: '#000', 'stroke-width': 3.2});
  
  

  const hGate = make('line', g, {x1: box.l, x2: box.r, y1: sy(gateY[i]), y2: sy(gateY[i]), stroke: '#000', 'stroke-width': 3.2});
  
  

  tickExponents.forEach((exp, d) => {
    const ch = d * 250;
    const xt = make('line', g, {x1: sx(ch), x2: sx(ch), y1: box.b, y2: box.b + 14, stroke: '#000', 'stroke-width': 3});
    
    

    const yt = make('line', g, {x1: box.l - 16, x2: box.l, y1: sy(ch), y2: sy(ch), stroke: '#000', 'stroke-width': 3.5});
    
    

    if (d < 4) {
      for (let m = 2; m < 10; m++) {
        const cm = (d + Math.log10(m)) * 250;
        const xm = make('line', g, {x1: sx(cm), x2: sx(cm), y1: box.b, y2: box.b + 8, stroke: '#000', 'stroke-width': 2.8});
        
        

        const ym = make('line', g, {x1: box.l - 9, x2: box.l, y1: sy(cm), y2: sy(cm), stroke: '#000', 'stroke-width': 3.2});
        
        
      }
    }

    const xl = make('text', g, {x: sx(ch) - 25, y: box.b + 50, class: 'sans', 'font-size': 30});
    xl.textContent = '10';
    
    

    const xe = make('text', g, {x: sx(ch) + 9, y: box.b + 35, class: 'sans', 'font-size': 27});
    xe.textContent = exp;
    
    

    const yl = make('text', g, {transform: 'translate(' + (box.l - 24) + ',' + (sy(ch) + 24) + ') rotate(-90)', class: 'sans', 'font-size': 30});
    yl.textContent = '10';
    
    

    const ye = make('text', g, {transform: 'translate(' + (box.l - 44) + ',' + (sy(ch) + 24) + ') rotate(-90)', class: 'sans', 'font-size': 30});
    ye.textContent = exp;
    
    
  });
}
panelLayout.forEach((_, i) => drawPanel(i));

/* ---------- bar chart ---------- */
const barRoot = document.getElementById('bar-chart');
const barY = v => 3388 - 49 * v;
const barX = i => 1333 + 264.3 * i;
const BAR_W = 159;
const labelNudge = [-1,0,10,11,5,5,15];

const yAxis = make('line', barRoot, {x1: 1107, x2: 1107, y1: barY(30), y2: barY(0), stroke: '#000', 'stroke-width': 3});



barTickLabels.forEach(v => {
  const t = make('line', barRoot, {x1: 1086, x2: 1107, y1: barY(v), y2: barY(v), stroke: '#000', 'stroke-width': 3});
  
  

  const l = make('text', barRoot, {x: 1058, y: barY(v) + 20, 'text-anchor': 'end', class: 'sans', 'font-size': 57});
  l.textContent = String(v);
  
  
});

barCategories.forEach((cat, i) => {
  const cx = barX(i);
  const stem = make('line', barRoot, {x1: cx, x2: cx, y1: barY(barErrorTops[i]), y2: barY(barValues[i]), stroke: '#000', 'stroke-width': 3});
  
  

  const cap = make('line', barRoot, {x1: cx - 22, x2: cx + 22, y1: barY(barErrorTops[i]), y2: barY(barErrorTops[i]), stroke: '#000', 'stroke-width': 3});
  
  

  const bar = make('rect', barRoot, {x: cx - BAR_W / 2, y: barY(barValues[i]), width: BAR_W, height: barY(0) - barY(barValues[i]), fill: '#c0c0c0', stroke: '#000', 'stroke-width': 3.5});
  
  

  const lab = make('text', barRoot, {x: cx + labelNudge[i], y: 3505, 'text-anchor': 'middle', class: 'lab'});
  lab.textContent = cat;
  
  

  if (barStars[i]) {
    const star = make('text', barRoot, {x: cx - 5, y: barY(barErrorTops[i]) - 100 + 78, 'text-anchor': 'middle', class: 'serif', 'font-size': 120});
    star.textContent = barStars[i];
    
    
  }
});

const xAxis = make('line', barRoot, {x1: 1086, x2: 3145, y1: barY(0), y2: barY(0), stroke: '#000', 'stroke-width': 3.5});


</script>
</body>
</html>
